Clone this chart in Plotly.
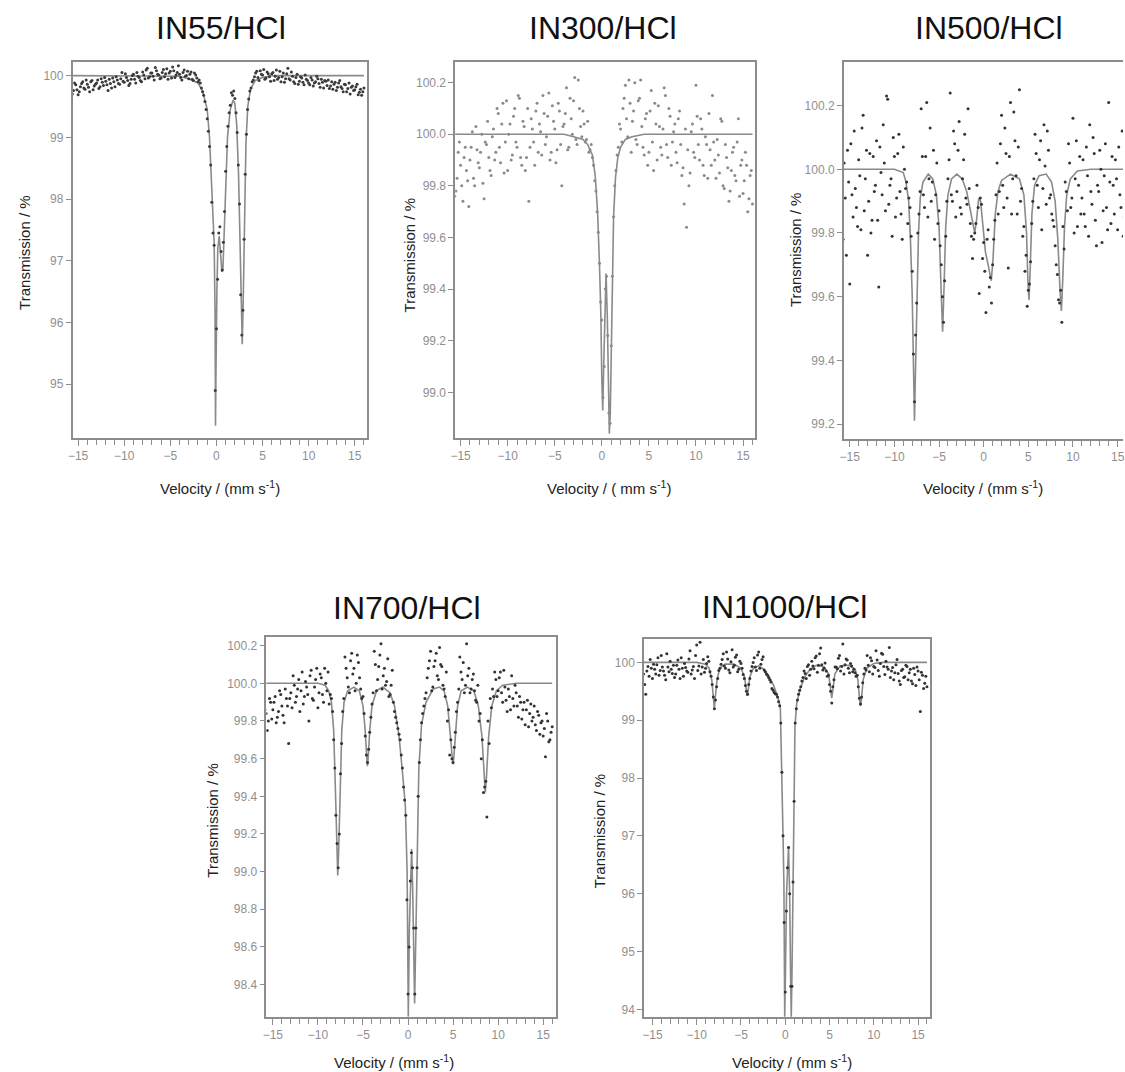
import plotly.graph_objects as go

# ---------------- data ----------------
# velocity channels (two interleaved sets of channels)
VELOCITY = [-16.0, -15.75, -15.5, -15.25, -15.0, -14.75, -14.5, -14.25, -14.0, -13.75, -13.5, -13.25,
            -13.0, -12.75, -12.5, -12.25, -12.0, -11.75, -11.5, -11.25, -11.0, -10.75, -10.5, -10.25,
            -10.0, -9.75, -9.5, -9.25, -9.0, -8.75, -8.5, -8.25, -8.0, -7.75, -7.5, -7.25,
            -7.0, -6.75, -6.5, -6.25, -6.0, -5.75, -5.5, -5.25, -5.0, -4.75, -4.5, -4.25,
            -4.0, -3.75, -3.5, -3.25, -3.0, -2.75, -2.5, -2.25, -2.0, -1.75, -1.5, -1.25,
            -1.0, -0.75, -0.5, -0.25, 0.0, 0.25, 0.5, 0.75, 1.0, 1.25, 1.5, 1.75,
            2.0, 2.25, 2.5, 2.75, 3.0, 3.25, 3.5, 3.75, 4.0, 4.25, 4.5, 4.75,
            5.0, 5.25, 5.5, 5.75, 6.0, 6.25, 6.5, 6.75, 7.0, 7.25, 7.5, 7.75,
            8.0, 8.25, 8.5, 8.75, 9.0, 9.25, 9.5, 9.75, 10.0, 10.25, 10.5, 10.75,
            11.0, 11.25, 11.5, 11.75, 12.0, 12.25, 12.5, 12.75, 13.0, 13.25, 13.5, 13.75,
            14.0, 14.25, 14.5, 14.75, 15.0, 15.25, 15.5, 15.75, 16.0]

VELOCITY_B = [-15.875, -15.625, -15.375, -15.125, -14.875, -14.625, -14.375, -14.125,
              -13.875, -13.625, -13.375, -13.125, -12.875, -12.625, -12.375, -12.125,
              -11.875, -11.625, -11.375, -11.125, -10.875, -10.625, -10.375, -10.125,
              -9.875, -9.625, -9.375, -9.125, -8.875, -8.625, -8.375, -8.125,
              -7.875, -7.625, -7.375, -7.125, -6.875, -6.625, -6.375, -6.125,
              -5.875, -5.625, -5.375, -5.125, -4.875, -4.625, -4.375, -4.125,
              -3.875, -3.625, -3.375, -3.125, -2.875, -2.625, -2.375, -2.125,
              -1.875, -1.625, -1.375, -1.125, -0.875, -0.625, -0.375, -0.125,
              0.125, 0.375, 0.625, 0.875, 1.125, 1.375, 1.625, 1.875,
              2.125, 2.375, 2.625, 2.875, 3.125, 3.375, 3.625, 3.875,
              4.125, 4.375, 4.625, 4.875, 5.125, 5.375, 5.625, 5.875,
              6.125, 6.375, 6.625, 6.875, 7.125, 7.375, 7.625, 7.875,
              8.125, 8.375, 8.625, 8.875, 9.125, 9.375, 9.625, 9.875,
              10.125, 10.375, 10.625, 10.875, 11.125, 11.375, 11.625, 11.875,
              12.125, 12.375, 12.625, 12.875, 13.125, 13.375, 13.625, 13.875,
              14.125, 14.375, 14.625, 14.875, 15.125, 15.375, 15.625, 15.875]

T_IN55 = [99.72, 99.80, 99.76, 99.85, 99.69, 99.82, 99.90, 99.78, 99.86, 99.74, 99.92, 99.83,
          99.88, 99.79, 99.95, 99.84, 99.91, 99.76, 99.87, 99.96, 99.82, 99.93, 99.86, 100.05,
          99.89, 99.97, 99.84, 99.94, 100.02, 99.88, 99.99, 99.92, 100.06, 99.95, 100.12, 99.98,
          100.04, 99.93, 100.08, 100.01, 99.96, 100.10, 100.03, 99.94, 100.07, 100.14, 99.97, 100.05,
          100.02, 99.93, 100.09, 100.00, 99.95, 100.06, 99.92, 100.01, 99.90, 99.88, 99.74, 99.58,
          99.30, 98.85, 97.95, 97.25, 95.90, 97.45, 97.15, 97.30, 98.45, 99.18, 99.52, 99.68,
          99.63, 99.08, 97.92, 95.80, 97.35, 99.05, 99.62, 99.80, 99.93, 100.04, 99.97, 100.08,
          100.01, 99.94, 100.06, 99.98, 100.03, 99.92, 100.09, 99.97, 99.90, 100.04, 99.95, 100.12,
          99.93, 99.99, 99.87, 100.02, 99.91, 99.96, 99.85, 99.94, 99.88, 99.97, 99.83, 99.90,
          99.95, 99.81, 99.89, 99.92, 99.84, 99.79, 99.90, 99.86, 99.76, 99.88, 99.82, 99.74,
          99.85, 99.79, 99.70, 99.83, 99.77, 99.86, 99.73, 99.68, 99.80]
T_IN55_B = [99.83, 99.70, 99.88, 99.77, 99.74, 99.87, 99.80, 99.93, 99.81, 99.90, 99.77, 99.86,
            99.93, 99.82, 99.89, 99.97, 99.85, 99.94, 99.80, 99.90, 99.98, 99.87, 99.95, 99.91,
            100.03, 99.92, 99.87, 100.00, 99.94, 100.05, 99.97, 99.90, 100.01, 100.09, 99.96, 100.04,
            99.99, 100.13, 100.02, 99.95, 100.05, 99.98, 100.11, 100.04, 99.96, 100.08, 100.01, 100.16,
            99.97, 100.05, 99.99, 100.07, 100.02, 99.94, 100.04, 99.96, 99.93, 99.80, 99.68, 99.45,
            99.10, 98.55, 97.45, 94.90, 96.70, 97.55, 96.85, 97.80, 98.85, 99.40, 99.72, 99.75,
            99.40, 98.55, 96.45, 96.20, 98.40, 99.45, 99.75, 99.90, 99.98, 100.07, 99.92, 100.02,
            100.10, 99.96, 100.03, 99.91, 100.05, 99.99, 99.94, 100.07, 99.98, 99.89, 100.03, 99.95,
            100.06, 99.90, 99.97, 99.86, 99.98, 99.89, 100.01, 99.92, 99.85, 99.93, 99.88, 99.99,
            99.87, 99.94, 99.80, 99.91, 99.93, 99.83, 99.78, 99.89, 99.81, 99.92, 99.79, 99.86,
            99.74, 99.88, 99.81, 99.76, 99.82, 99.69, 99.78, 99.74]

T_IN300 = [99.72, 99.85, 99.78, 99.93, 99.88, 99.74, 99.95, 99.82, 99.90, 100.01, 99.80, 99.94,
           99.87, 100.00, 99.75, 99.96, 99.91, 99.84, 100.02, 99.93, 100.08, 99.89, 100.12, 99.97,
           99.86, 100.04, 99.92, 100.10, 99.95, 100.14, 99.88, 100.03, 99.91, 99.74, 100.06, 99.97,
           100.09, 99.93, 100.01, 100.15, 99.96, 100.07, 99.90, 100.11, 100.02, 99.94, 100.09, 99.80,
           100.04, 100.18, 99.95, 100.06, 100.13, 99.98, 100.21, 100.03, 100.09, 99.97, 100.05, 99.94,
           99.91, 99.82, 99.70, 99.50, 99.28, 99.10, 99.45, 98.92, 99.18, 99.68, 99.86, 99.95,
           100.02, 100.10, 100.19, 99.99, 100.12, 100.05, 100.20, 99.96, 100.14, 100.03, 99.92, 100.08,
           99.93, 100.17, 99.86, 100.04, 100.11, 99.95, 100.02, 100.15, 99.91, 100.07, 99.97, 100.04,
           99.89, 100.09, 99.84, 99.73, 99.64, 99.80, 100.01, 99.93, 100.19, 99.96, 100.06, 99.88,
           99.99, 99.83, 99.94, 100.15, 99.90, 99.98, 99.85, 100.05, 99.79, 99.91, 99.74, 99.86,
           99.95, 99.82, 100.06, 99.88, 99.77, 99.93, 99.70, 99.84, 99.73]
T_IN300_B = [99.90, 99.76, 99.83, 99.97, 99.80, 99.91, 99.86, 99.72, 99.95, 99.83, 100.03, 99.89,
             99.93, 99.81, 99.97, 100.05, 99.86, 99.99, 99.90, 100.10, 99.95, 100.04, 99.85, 100.13,
             100.00, 99.90, 100.07, 99.97, 100.15, 99.91, 100.05, 99.86, 100.10, 99.95, 100.02, 99.88,
             100.12, 100.04, 99.92, 100.08, 99.99, 100.16, 99.93, 100.05, 99.89, 100.12, 99.96, 100.03,
             100.08, 99.94, 100.14, 100.00, 100.22, 99.96, 100.10, 99.99, 100.04, 99.98, 99.93, 99.96,
             99.88, 99.78, 99.62, 99.35, 98.98, 99.40, 99.22, 98.88, 99.45, 99.80, 99.92, 100.04,
             99.97, 100.14, 100.06, 100.21, 99.93, 100.09, 99.98, 100.13, 100.21, 99.95, 100.06, 99.88,
             100.09, 99.97, 100.12, 99.90, 100.03, 99.92, 100.18, 99.96, 100.10, 99.88, 100.01, 99.93,
             100.06, 99.96, 99.87, 100.02, 99.94, 99.85, 100.04, 99.91, 100.07, 99.90, 100.02, 99.84,
             99.96, 100.08, 99.88, 99.97, 99.83, 99.92, 100.06, 99.80, 99.96, 99.87, 99.78, 99.93,
             99.84, 99.97, 99.76, 99.90, 99.82, 99.88, 99.75, 99.86]

T_IN500 = [99.95, 99.78, 99.91, 100.06, 99.64, 99.92, 100.12, 99.88, 100.03, 99.81, 100.17, 99.97,
           99.73, 100.05, 99.84, 99.93, 100.09, 99.63, 99.99, 100.14, 99.87, 100.22, 99.95, 99.79,
           100.04, 99.91, 100.11, 99.86, 100.07, 99.94, 99.83, 99.88, 99.68, 99.27, 99.58, 99.86,
           100.19, 99.92, 100.04, 99.85, 100.13, 99.96, 99.78, 100.02, 99.87, 99.70, 99.52, 99.79,
           99.97, 100.24, 99.90, 100.08, 99.93, 100.15, 99.86, 100.03, 99.91, 100.19, 99.83, 99.72,
           99.80, 99.95, 99.61, 99.89, 99.77, 99.55, 99.81, 99.66, 99.70, 99.84, 100.02, 99.93,
           100.17, 99.88, 100.05, 99.69, 100.21, 99.97, 100.09, 99.86, 100.25, 99.94, 99.82, 99.73,
           99.62, 99.71, 99.90, 100.11, 99.95, 100.03, 99.81, 100.14, 99.89, 100.06, 99.92, 99.84,
           99.76, 99.67, 99.58, 99.52, 99.75, 99.93, 100.08, 99.88, 100.16, 99.97, 99.82, 100.04,
           99.91, 99.86, 100.07, 99.79, 99.93, 100.10, 99.84, 99.95, 100.06, 99.77, 99.98, 99.88,
           100.21, 99.83, 99.95, 100.03, 99.81, 99.92, 100.12, 99.85, 99.90]
T_IN500_B = [99.88, 100.02, 99.73, 99.96, 100.08, 99.85, 99.94, 99.82, 99.98, 100.13, 99.87, 100.06,
             99.90, 99.80, 100.04, 99.95, 99.84, 100.07, 99.92, 100.02, 100.23, 99.89, 99.97, 100.10,
             99.85, 100.05, 99.93, 99.78, 100.00, 99.96, 99.91, 99.79, 99.42, 99.48, 99.80, 99.93,
             100.04, 99.88, 100.21, 99.97, 99.90, 100.06, 99.92, 99.83, 99.76, 99.60, 99.65, 99.90,
             100.03, 99.92, 100.12, 99.85, 100.06, 99.88, 99.97, 100.11, 99.89, 99.94, 99.79, 99.78,
             99.83, 99.88, 99.91, 99.72, 99.68, 99.78, 99.63, 99.58, 99.78, 99.92, 99.86, 100.08,
             99.95, 100.13, 99.91, 100.04, 99.86, 100.18, 99.98, 100.07, 99.90, 99.79, 99.68, 99.57,
             99.64, 99.83, 99.97, 100.05, 99.88, 100.09, 99.94, 100.01, 100.12, 99.91, 99.86, 99.82,
             99.70, 99.59, 99.62, 99.82, 99.96, 99.87, 100.02, 99.91, 99.80, 100.09, 99.95, 99.86,
             100.03, 99.82, 99.98, 100.14, 99.89, 100.05, 99.76, 99.93, 100.00, 99.87, 100.08, 99.81,
             99.96, 100.04, 99.86, 99.97, 100.07, 99.88, 99.79, 100.02]

T_IN700 = [99.78, 99.84, 99.80, 99.90, 99.86, 99.93, 99.82, 99.96, 99.88, 99.79, 99.92, 99.68,
           99.95, 100.04, 99.90, 99.97, 99.85, 100.06, 99.93, 99.98, 99.80, 100.07, 99.91, 100.02,
           99.87, 100.05, 99.94, 100.08, 99.96, 99.89, 99.92, 99.70, 99.30, 99.02, 99.52, 99.85,
           100.14, 100.03, 99.95, 100.16, 100.08, 100.00, 100.11, 99.97, 99.93, 99.72, 99.58, 99.74,
           99.89, 100.17, 99.96, 100.09, 100.21, 100.04, 99.99, 100.13, 99.94, 100.07, 99.85, 99.79,
           99.73, 99.62, 99.45, 99.30, 98.35, 98.95, 99.02, 98.35, 99.02, 99.58, 99.79, 99.88,
           99.95, 100.08, 100.17, 99.98, 100.12, 100.04, 100.19, 100.09, 99.97, 100.06, 99.86, 99.70,
           99.58, 99.74, 99.90, 100.14, 100.02, 99.95, 100.21, 100.08, 99.97, 100.05, 99.91, 99.99,
           99.84, 99.70, 99.45, 99.29, 99.68, 99.87, 99.93, 100.02, 99.96, 100.06, 99.90, 99.98,
           99.85, 99.93, 100.04, 99.88, 99.95, 99.82, 99.90, 99.86, 99.78, 99.91, 99.84, 99.80,
           99.88, 99.75, 99.83, 99.79, 99.72, 99.61, 99.80, 99.70, 99.77]
T_IN700_B = [99.86, 99.75, 99.92, 99.81, 99.90, 99.79, 99.85, 99.94, 99.83, 99.97, 99.88, 99.92,
             99.87, 99.99, 99.93, 100.02, 99.96, 99.89, 100.01, 99.94, 100.04, 99.92, 99.98, 100.08,
             99.95, 100.03, 99.90, 100.00, 100.06, 99.94, 99.85, 99.55, 99.15, 99.20, 99.68, 99.92,
             100.08, 99.98, 100.12, 100.05, 99.96, 100.15, 100.03, 99.92, 99.84, 99.62, 99.65, 99.82,
             99.95, 100.10, 100.02, 100.15, 99.97, 100.08, 100.01, 99.93, 99.99, 99.90, 99.82, 99.76,
             99.70, 99.55, 99.38, 98.85, 98.60, 99.10, 98.70, 98.70, 99.40, 99.70, 99.84, 99.92,
             100.03, 100.12, 99.96, 100.09, 100.16, 100.02, 100.10, 99.99, 99.93, 99.80, 99.62, 99.60,
             99.66, 99.85, 99.97, 100.06, 100.11, 99.99, 100.04, 99.95, 100.02, 99.96, 99.90, 99.80,
             99.60, 99.42, 99.48, 99.80, 99.92, 99.97, 100.06, 99.93, 100.03, 99.95, 100.07, 99.91,
             99.97, 99.86, 99.92, 99.99, 99.88, 99.93, 99.81, 99.90, 99.86, 99.77, 99.89, 99.82,
             99.78, 99.85, 99.73, 99.80, 99.76, 99.84, 99.69, 99.74]

T_IN1000 = [99.80, 99.45, 99.93, 100.05, 99.72, 99.88, 99.96, 99.78, 100.12, 99.85, 99.70, 99.92,
            100.02, 99.81, 99.74, 99.95, 99.88, 100.08, 99.76, 99.91, 99.83, 100.20, 99.87, 99.72,
            100.30, 99.94, 99.80, 100.05, 99.90, 100.10, 99.84, 99.62, 99.20, 99.58, 99.86, 99.97,
            100.15, 99.90, 100.06, 99.82, 100.22, 99.95, 100.13, 99.88, 99.98, 99.79, 99.60, 99.45,
            99.72, 99.93, 100.08, 99.86, 100.18, 99.97, 100.10, 99.84, 99.78, 99.70, 99.55, 99.48,
            99.45, 99.32, 98.95, 97.00, 94.30, 96.45, 96.00, 94.40, 97.60, 99.20, 99.45, 99.58,
            99.74, 99.81, 99.93, 99.78, 100.02, 99.89, 100.11, 99.95, 100.25, 99.87, 99.99, 99.76,
            99.62, 99.30, 99.70, 99.92, 100.07, 99.85, 100.32, 99.96, 100.04, 99.82, 99.94, 99.88,
            99.76, 99.58, 99.28, 99.65, 99.90, 100.12, 99.84, 100.03, 99.93, 100.20, 99.86, 99.98,
            100.14, 99.79, 99.92, 100.26, 99.85, 99.70, 99.96, 99.81, 99.62, 99.88, 99.75, 99.93,
            99.82, 99.68, 99.90, 99.60, 99.85, 99.15, 99.78, 99.64, 99.58]
T_IN1000_B = [99.62, 99.85, 99.76, 99.90, 99.97, 99.80, 100.08, 99.86, 99.92, 99.78, 100.15, 99.84,
              99.88, 99.95, 99.80, 100.04, 99.72, 99.90, 99.98, 99.85, 100.06, 99.80, 99.93, 100.12,
              99.86, 100.35, 99.92, 99.83, 99.98, 100.02, 99.76, 99.40, 99.35, 99.72, 99.90, 100.05,
              99.94, 100.18, 99.87, 100.01, 99.92, 100.09, 99.84, 100.02, 99.90, 99.72, 99.50, 99.62,
              99.85, 100.00, 99.92, 100.13, 99.90, 100.05, 99.87, 99.80, 99.74, 99.66, 99.52, 99.46,
              99.40, 99.25, 98.10, 95.50, 95.70, 96.80, 94.40, 96.20, 98.95, 99.35, 99.52, 99.68,
              99.85, 99.72, 99.96, 99.88, 99.94, 100.08, 99.83, 100.15, 99.96, 99.90, 99.85, 99.78,
              99.50, 99.58, 99.92, 99.89, 100.12, 99.93, 99.80, 100.06, 99.90, 99.98, 99.84, 99.82,
              99.78, 99.38, 99.40, 99.80, 99.87, 99.95, 100.08, 99.80, 99.91, 100.04, 99.76, 100.16,
              99.93, 100.02, 99.88, 99.74, 99.91, 99.82, 100.05, 99.68, 99.86, 99.74, 99.95, 99.70,
              99.88, 99.63, 99.79, 99.92, 99.70, 99.83, 99.55, 99.76]

FIT_V_IN55 = [-16, -4, -3, -2, -1.5, -1.0, -0.75, -0.55, -0.4, -0.25, -0.15, -0.1, -0.05, 0.05, 0.15,
              0.3, 0.45, 0.6, 0.7, 0.85, 1.0, 1.2, 1.5, 1.8, 2.0, 2.2, 2.4, 2.55, 2.7, 2.8, 2.9,
              3.05, 3.2, 3.4, 3.7, 4.2, 5, 6, 16]
FIT_T_IN55 = [100, 99.99, 99.95, 99.88, 99.75, 99.45, 99.0, 98.3, 97.6, 97.3, 96.2, 94.33, 95.2, 96.5, 97.2,
              97.4, 97.1, 96.82, 96.85, 97.5, 98.3, 99.0, 99.45, 99.6, 99.55, 99.2, 98.4, 97.3, 96.2, 95.65, 96.3,
              97.8, 98.9, 99.5, 99.78, 99.92, 99.97, 100, 100]

FIT_V_IN300 = [-16, -4, -3, -2, -1.5, -1.0, -0.7, -0.45, -0.25, -0.1, 0.0, 0.1, 0.2, 0.32, 0.45,
               0.58, 0.7, 0.8, 0.9, 1.0, 1.1, 1.25, 1.45, 1.7, 2.0, 2.5, 3.2, 4.5, 16]
FIT_T_IN300 = [100, 100, 99.99, 99.98, 99.96, 99.92, 99.84, 99.70, 99.50, 99.30, 99.05, 98.93, 99.1, 99.35, 99.46,
               99.3, 99.0, 98.84, 98.92, 99.2, 99.45, 99.68, 99.83, 99.91, 99.95, 99.98, 99.99, 100, 100]

FIT_V_IN500 = [-16, -10, -9, -8.7, -8.4, -8.2, -8.0, -7.85, -7.75, -7.65, -7.5, -7.3, -7.1, -6.8, -6.2,
               -5.7, -5.3, -5.0, -4.8, -4.6, -4.45, -4.25, -4.0, -3.6, -3.0, -2.4, -1.9, -1.5, -1.2, -1.0,
               -0.8, -0.55, -0.35, -0.1, 0.2, 0.5, 0.85, 1.05, 1.3, 1.6, 2.0, 3.0, 4.0, 4.5, 4.8,
               4.95, 5.07, 5.2, 5.4, 5.7, 6.2, 7.0, 7.6, 8.0, 8.3, 8.55, 8.7, 8.85, 9.05, 9.3,
               9.7, 10.5, 12, 16]
FIT_T_IN500 = [100.0, 100.0, 99.99, 99.96, 99.90, 99.78, 99.6, 99.35, 99.21, 99.35, 99.6, 99.8, 99.91, 99.96, 99.985,
               99.97, 99.92, 99.82, 99.65, 99.49, 99.62, 99.82, 99.92, 99.97, 99.985, 99.97, 99.93, 99.87, 99.82, 99.80,
               99.84, 99.91, 99.90, 99.82, 99.74, 99.70, 99.65, 99.72, 99.86, 99.93, 99.965, 99.985, 99.97, 99.92, 99.80,
               99.65, 99.59, 99.68, 99.86, 99.95, 99.98, 99.985, 99.96, 99.90, 99.78, 99.62, 99.555, 99.65, 99.82, 99.92,
               99.97, 99.995, 100.0, 100.0]

FIT_V_IN700 = [-16, -10, -9.2, -8.8, -8.5, -8.25, -8.05, -7.9, -7.8, -7.7, -7.55, -7.35, -7.1, -6.7, -6.0,
               -5.4, -5.0, -4.75, -4.6, -4.5, -4.4, -4.25, -4.0, -3.5, -2.8, -2.0, -1.5, -1.0, -0.6, -0.3,
               -0.1, 0.03, 0.15, 0.3, 0.4, 0.52, 0.73, 0.9, 1.0, 1.2, 1.5, 2.0, 2.8, 3.5, 4.0,
               4.4, 4.7, 4.87, 4.97, 5.07, 5.25, 5.5, 5.9, 6.6, 7.3, 7.8, 8.2, 8.45, 8.57, 8.7,
               8.95, 9.3, 9.8, 10.5, 12, 16]
FIT_T_IN700 = [100.0, 100.0, 99.99, 99.96, 99.90, 99.75, 99.42, 99.1, 98.98, 99.1, 99.42, 99.75, 99.9, 99.96, 99.98,
               99.96, 99.88, 99.75, 99.62, 99.56, 99.62, 99.75, 99.88, 99.96, 99.98, 99.95, 99.88, 99.72, 99.52, 99.35,
               99.0, 98.23, 98.7, 99.05, 99.12, 98.9, 98.30, 98.75, 99.05, 99.55, 99.78, 99.9, 99.97, 99.98, 99.96,
               99.88, 99.72, 99.6, 99.57, 99.6, 99.72, 99.88, 99.96, 99.98, 99.96, 99.88, 99.72, 99.5, 99.42, 99.5,
               99.72, 99.88, 99.96, 99.99, 100.0, 100.0]

FIT_V_IN1000 = [-16, -10, -9, -8.6, -8.3, -8.1, -8.0, -7.9, -7.7, -7.4, -6.8, -5.8, -5.0, -4.6, -4.4,
                -4.3, -4.2, -4.0, -3.6, -3.0, -2.4, -1.8, -1.3, -1.0, -0.75, -0.55, -0.4, -0.25, -0.15, -0.1,
                -0.06, 0.02, 0.15, 0.37, 0.5, 0.6, 0.68, 0.76, 0.85, 0.95, 1.1, 1.3, 1.7, 2.2, 2.8,
                3.5, 4.4, 4.9, 5.1, 5.25, 5.4, 5.6, 6.2, 7.2, 7.9, 8.2, 8.4, 8.5, 8.6, 8.8,
                9.2, 10, 11, 16]
FIT_T_IN1000 = [100.0, 100.0, 99.97, 99.9, 99.7, 99.4, 99.2, 99.4, 99.7, 99.9, 99.97, 99.97, 99.9, 99.75, 99.5,
                99.42, 99.5, 99.75, 99.9, 99.94, 99.88, 99.75, 99.6, 99.48, 99.35, 99.2, 98.3, 97.0, 96.15, 94.8,
                93.87, 94.6, 96.0, 96.82, 96.0, 94.6, 93.87, 94.6, 96.0, 96.6, 98.9, 99.3, 99.55, 99.75, 99.88,
                99.95, 99.92, 99.8, 99.55, 99.38, 99.55, 99.8, 99.94, 99.95, 99.88, 99.7, 99.35, 99.25, 99.35, 99.7,
                99.9, 99.98, 100.0, 100.0]

TITLES = ["IN55/HCl", "IN300/HCl", "IN500/HCl", "IN700/HCl", "IN1000/HCl"]
X_TITLES = ["Velocity / (mm s<sup>-1</sup>)", "Velocity / ( mm s<sup>-1</sup>)", "Velocity / (mm s<sup>-1</sup>)",
            "Velocity / (mm s<sup>-1</sup>)", "Velocity / (mm s<sup>-1</sup>)"]
Y_TITLE = "Transmission / %"

# ---------------- layout / style ----------------
W, H = 1125, 1072
panels = [
    dict(data=T_IN55, data_b=T_IN55_B, fv=FIT_V_IN55, ft=FIT_T_IN55, box=(68, 364, 62, 438),
         xr=(-15.6, 16.3), yr=(94.13, 100.22), dt=1, t0=94, fmt="d", mc="#3a3a3a", ymirror=True,
         title=(217, 28), ytit=(20, 253), xtit=(216, 487)),
    dict(data=T_IN300, data_b=T_IN300_B, fv=FIT_V_IN300, ft=FIT_T_IN300, box=(453, 755, 62, 438),
         xr=(-15.57, 16.3), yr=(98.823, 100.28), dt=0.2, t0=99.0, fmt=".1f", mc="#8a8a8a", ymirror=True,
         title=(602, 28), ytit=(407, 255), xtit=(608, 487)),
    dict(data=T_IN500, data_b=T_IN500_B, fv=FIT_V_IN500, ft=FIT_T_IN500, box=(844, 1125, 62, 439),
         xr=(-15.67, 15.6), yr=(99.153, 100.337), dt=0.2, t0=99.2, fmt=".1f", mc="#333333", ymirror=False,
         title=(990, 28), ytit=(795, 250), xtit=(984, 487)),
    dict(data=T_IN700, data_b=T_IN700_B, fv=FIT_V_IN700, ft=FIT_T_IN700, box=(263, 554, 637, 1017),
         xr=(-15.72, 16.37), yr=(98.228, 100.246), dt=0.2, t0=98.4, fmt=".1f", mc="#333333", ymirror=True,
         title=(405, 608), ytit=(208, 821), xtit=(391, 1061)),
    dict(data=T_IN1000, data_b=T_IN1000_B, fv=FIT_V_IN1000, ft=FIT_T_IN1000, box=(643, 931, 639, 1017),
         xr=(-15.95, 16.37), yr=(93.867, 100.405), dt=1, t0=94, fmt="d", mc="#333333", ymirror=True,
         title=(784, 607), ytit=(598, 831), xtit=(792, 1061)),
]

AXIS_GRAY = "#8c8c8c"
TICK_FONT = dict(family="Liberation Sans, Arial, sans-serif", size=12, color="#8f8f8f")
TEXT_FONT = "Liberation Sans, Arial, sans-serif"

fig = go.Figure()
layout = dict(width=W, height=H, margin=dict(l=0, r=0, t=0, b=0),
              paper_bgcolor="white", plot_bgcolor="white", showlegend=False,
              annotations=[])

for i, p in enumerate(panels, start=1):
    xa = "x" if i == 1 else f"x{i}"
    ya = "y" if i == 1 else f"y{i}"
    fig.add_trace(go.Scatter(x=p["fv"], y=p["ft"], mode="lines", xaxis=xa, yaxis=ya,
                             line=dict(color="#8a8a8a", width=1.6), hoverinfo="skip"))
    fig.add_trace(go.Scatter(x=VELOCITY + VELOCITY_B, y=p["data"] + p["data_b"], mode="markers",
                             xaxis=xa, yaxis=ya, marker=dict(size=3, color=p["mc"]), hoverinfo="skip"))
    x0, x1, y0, y1 = p["box"]
    xkey = "xaxis" if i == 1 else f"xaxis{i}"
    ykey = "yaxis" if i == 1 else f"yaxis{i}"
    layout[xkey] = dict(domain=[x0 / W, x1 / W], anchor=ya, range=list(p["xr"]),
                        showgrid=False, zeroline=False, showline=True, linecolor=AXIS_GRAY,
                        linewidth=1.5, mirror=True, tickmode="linear", tick0=0, dtick=5,
                        ticks="outside", ticklen=6, tickcolor=AXIS_GRAY, tickfont=TICK_FONT,
                        ticklabeloverflow="allow",
                        minor=dict(dtick=1, tick0=0, ticks="outside", ticklen=5,
                                   tickcolor=AXIS_GRAY, showgrid=False))
    layout[ykey] = dict(domain=[1 - y1 / H, 1 - y0 / H], anchor=xa, range=list(p["yr"]),
                        showgrid=False, zeroline=False, showline=True, linecolor=AXIS_GRAY,
                        linewidth=1.5, mirror=p["ymirror"], tickmode="linear", tick0=p["t0"],
                        dtick=p["dt"], tickformat=p["fmt"], ticks="outside", ticklen=5,
                        tickcolor=AXIS_GRAY, tickfont=TICK_FONT)
    tx, ty = p["title"]
    layout["annotations"].append(dict(text=TITLES[i - 1], x=tx / W, y=1 - ty / H, xref="paper",
                                      yref="paper", showarrow=False, xanchor="center",
                                      yanchor="middle",
                                      font=dict(family=TEXT_FONT, size=32, color="#111111")))
    yx, yy = p["ytit"]
    layout["annotations"].append(dict(text=Y_TITLE, x=yx / W, y=1 - yy / H, xref="paper",
                                      yref="paper", showarrow=False, xanchor="center",
                                      yanchor="middle", textangle=-90,
                                      font=dict(family=TEXT_FONT, size=15, color="#222222")))
    xx, xy = p["xtit"]
    layout["annotations"].append(dict(text=X_TITLES[i - 1], x=xx / W, y=1 - xy / H, xref="paper",
                                      yref="paper", showarrow=False, xanchor="center",
                                      yanchor="middle",
                                      font=dict(family=TEXT_FONT, size=15, color="#222222")))

fig.update_layout(**layout)
fig.write_html("out.html", config={"displayModeBar": False},
               post_script="document.body.style.margin='0';document.body.style.padding='0';"
                           "document.body.style.overflow='hidden';")
